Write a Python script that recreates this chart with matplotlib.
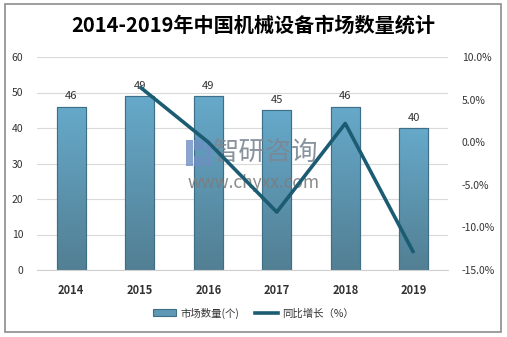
import numpy as np
import matplotlib.pyplot as plt
from matplotlib.patches import Rectangle, Patch
from matplotlib.lines import Line2D
from matplotlib.colors import LinearSegmentedColormap

plt.rcParams['font.family'] = ['Noto Sans CJK SC', 'DejaVu Sans']

# data
years = ['2014', '2015', '2016', '2017', '2018', '2019']
counts = [46, 49, 49, 45, 46, 40]
growth = [None, 6.5, 0.0, -8.2, 2.2, -13.0]

fig = plt.figure(figsize=(5.07, 3.37), dpi=100)

# outer frame
fig.patches.append(Rectangle((5 / 507, 1 - 332 / 337), 496 / 507, 328 / 337,
                             transform=fig.transFigure, fill=False,
                             edgecolor='#8c8c8c', linewidth=1.2))

fig.text(0.5, 1 - 25 / 337, '2014-2019年中国机械设备市场数量统计',
         ha='center', va='center', fontsize=14.5, fontweight='bold', color='black')

ax = fig.add_axes([37 / 507, 1 - 270 / 337, 411 / 507, 213 / 337])
x = np.arange(len(years))
bars = ax.bar(x, counts, width=0.42, color='#61a0bf', edgecolor='#3f6f86',
              linewidth=0.8, zorder=2)

# vertical gradient in each bar
grad = np.linspace(1, 0, 256).reshape(-1, 1)
cmap = LinearSegmentedColormap.from_list('barg', ['#527f93', '#66a9ca'])
for b in bars:
    bx, bw, bh = b.get_x(), b.get_width(), b.get_height()
    im = ax.imshow(grad, extent=[bx, bx + bw, 0, bh], aspect='auto',
                   cmap=cmap, zorder=2.1, origin='upper')
    im.set_clip_path(b)
    ax.add_patch(Rectangle((bx, 0), bw, bh, fill=False, edgecolor='#3f6f86',
                           linewidth=0.8, zorder=2.2))

for xi, c in zip(x, counts):
    ax.text(xi, c + 1.5, str(c), ha='center', va='bottom', fontsize=8,
            color='#333333', zorder=5)

ax.set_xlim(-0.5, len(years) - 0.5)
ax.set_ylim(0, 60)
ax.set_yticks(range(0, 61, 10))
ax.grid(axis='y', color='#d9d9d9', linewidth=0.8, zorder=0)
ax.set_axisbelow(True)
for s in ['top', 'right', 'left']:
    ax.spines[s].set_visible(False)
ax.spines['bottom'].set_color('#d0d0d0')
ax.tick_params(axis='both', length=0)
ax.tick_params(axis='y', labelsize=7.5, labelcolor='#333333', pad=10)
ax.set_xticks(x)
ax.set_xticklabels(years, fontsize=8, fontweight='bold', color='#333333')
ax.tick_params(axis='x', pad=10)

# watermark (logo + text)
for rx, ry, rw, rh in [(0.363, 0.49, 0.017, 0.12), (0.383, 0.565, 0.024, 0.045),
                       (0.383, 0.49, 0.024, 0.045), (0.410, 0.49, 0.013, 0.12)]:
    ax.add_patch(Rectangle((rx, ry), rw, rh, transform=ax.transAxes,
                           facecolor='#6f8fc4', edgecolor='none', alpha=0.8,
                           zorder=3))
ax.text(0.557, 0.552, '智研咨询', transform=ax.transAxes, ha='center',
        va='center', fontsize=19, color='#7b8794', alpha=0.9, zorder=3)
ax.text(0.526, 0.41, 'www.chyxx.com', transform=ax.transAxes, ha='center',
        va='center', fontsize=12.5, color='#7d7d7d', alpha=0.9, zorder=3)

ax2 = ax.twinx()
gx = [xi for xi, g in zip(x, growth) if g is not None]
gy = [g for g in growth if g is not None]
ax2.plot(gx, gy, color='#1c5c73', linewidth=2.6, zorder=4,
         solid_capstyle='butt')
ax2.set_ylim(-15, 10)
ax2.set_yticks(range(-15, 11, 5))
ax2.set_yticklabels([f'{v:.1f}%' for v in range(-15, 11, 5)])
ax2.tick_params(axis='y', length=0, labelsize=7.5, labelcolor='#333333', pad=10)
for s in ax2.spines.values():
    s.set_visible(False)

handles = [Patch(facecolor='#5e98b4', edgecolor='#3f6f86', linewidth=0.8),
           Line2D([0], [0], color='#1c5c73', linewidth=2.6)]
fig.legend(handles, ['市场数量(个)', '同比增长（%）'], loc='center',
           bbox_to_anchor=(0.5, 1 - 313 / 337), ncol=2, frameon=False,
           fontsize=7.5, handlelength=2.2, handleheight=0.6,
           columnspacing=1.5, handletextpad=0.4, labelcolor='#333333')

fig.savefig('out.png', dpi=100)
